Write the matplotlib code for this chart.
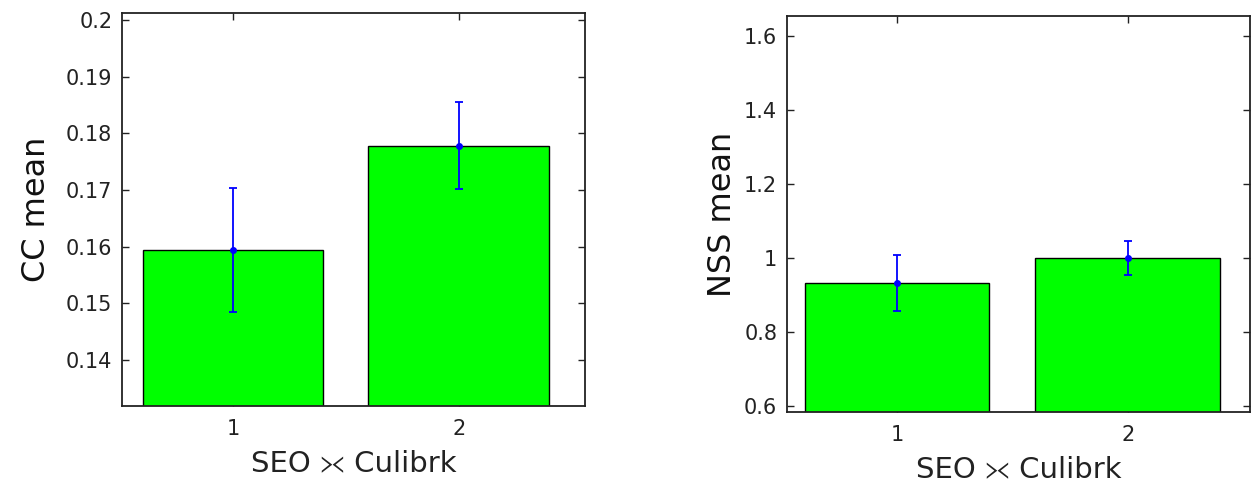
import numpy as np
import matplotlib
matplotlib.use("Agg")
import matplotlib.pyplot as plt

plt.rcParams["font.family"] = ["DejaVu Sans", "STIXGeneral"]

# Datos
grupos = [1, 2]
cc_media = [0.1594, 0.1778]
cc_err = [0.0110, 0.0077]
nss_media = [0.932, 1.001]
nss_err = [0.076, 0.046]
etiqueta_x = "SEO \u2aa5 Culibrk"

W, H = 1258, 490
fig = plt.figure(figsize=(W / 100, H / 100), dpi=100)


def panel(rect_px, medias, errs, ylim, xlim, yticks, ylabel, pad_y):
    x0, y0, x1, y1 = rect_px
    ax = fig.add_axes([x0 / W, (H - y1) / H, (x1 - x0) / W, (y1 - y0) / H])
    ax.bar(grupos, medias, width=0.8, color="#00ff00", edgecolor="black",
           linewidth=1.0, zorder=2)
    ax.errorbar(grupos, medias, yerr=errs, fmt="o", color="#0000ff", ms=4,
                elinewidth=1.3, capsize=3, capthick=1.3, zorder=3)
    ax.set_xlim(*xlim)
    ax.set_ylim(*ylim)
    ax.set_xticks(grupos)
    ax.set_yticks(yticks)
    ax.set_yticklabels([f"{v:g}" for v in yticks])
    ax.tick_params(direction="in", top=True, right=True, length=5,
                   width=1.0, labelsize=15, pad=7, colors="#222222")
    ax.tick_params(axis="x", pad=9)
    for s in ax.spines.values():
        s.set_linewidth(1.3)
        s.set_color("#222222")
    ax.set_ylabel(ylabel, fontsize=23, labelpad=pad_y, color="#111111")
    ax.set_xlabel(etiqueta_x, fontsize=21, labelpad=8, color="#222222")
    return ax


panel((122, 13, 585, 406), cc_media, cc_err, (0.1319, 0.2012), (0.507, 2.56),
      [0.14, 0.15, 0.16, 0.17, 0.18, 0.19, 0.2], "CC mean", 10)
panel((787, 16, 1250, 412), nss_media, nss_err, (0.584, 1.655), (0.524, 2.53),
      [0.6, 0.8, 1.0, 1.2, 1.4, 1.6], "NSS mean", 4)

fig.savefig("out.png", dpi=100)
